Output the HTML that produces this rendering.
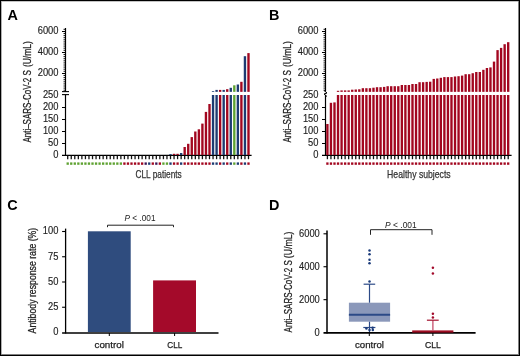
<!DOCTYPE html>
<html><head><meta charset="utf-8"><title>Figure</title>
<style>
html,body{margin:0;padding:0;background:#fff;}
body{width:520px;height:356px;overflow:hidden;}
svg{display:block;will-change:transform;}
text{font-family:"Liberation Sans",sans-serif;}
</style></head><body>
<svg width="520" height="356" viewBox="0 0 520 356">
<rect x="0" y="0" width="520" height="356" fill="#fff"/>
<line x1="65.50" y1="28.00" x2="65.50" y2="91.50" stroke="#000" stroke-width="1.2"/>
<line x1="65.50" y1="94.80" x2="65.50" y2="156.00" stroke="#000" stroke-width="1.2"/>
<line x1="62.00" y1="73.50" x2="65.50" y2="73.50" stroke="#000" stroke-width="1"/>
<line x1="62.00" y1="52.50" x2="65.50" y2="52.50" stroke="#000" stroke-width="1"/>
<line x1="62.00" y1="31.50" x2="65.50" y2="31.50" stroke="#000" stroke-width="1"/>
<line x1="63.50" y1="90.20" x2="65.50" y2="90.20" stroke="#000" stroke-width="0.9"/>
<line x1="63.50" y1="88.10" x2="65.50" y2="88.10" stroke="#000" stroke-width="0.9"/>
<line x1="63.50" y1="86.00" x2="65.50" y2="86.00" stroke="#000" stroke-width="0.9"/>
<line x1="63.50" y1="83.90" x2="65.50" y2="83.90" stroke="#000" stroke-width="0.9"/>
<line x1="63.50" y1="81.80" x2="65.50" y2="81.80" stroke="#000" stroke-width="0.9"/>
<line x1="63.50" y1="79.70" x2="65.50" y2="79.70" stroke="#000" stroke-width="0.9"/>
<line x1="63.50" y1="77.60" x2="65.50" y2="77.60" stroke="#000" stroke-width="0.9"/>
<line x1="63.50" y1="75.50" x2="65.50" y2="75.50" stroke="#000" stroke-width="0.9"/>
<line x1="63.50" y1="71.30" x2="65.50" y2="71.30" stroke="#000" stroke-width="0.9"/>
<line x1="63.50" y1="69.20" x2="65.50" y2="69.20" stroke="#000" stroke-width="0.9"/>
<line x1="63.50" y1="67.10" x2="65.50" y2="67.10" stroke="#000" stroke-width="0.9"/>
<line x1="63.50" y1="65.00" x2="65.50" y2="65.00" stroke="#000" stroke-width="0.9"/>
<line x1="63.50" y1="62.90" x2="65.50" y2="62.90" stroke="#000" stroke-width="0.9"/>
<line x1="63.50" y1="60.80" x2="65.50" y2="60.80" stroke="#000" stroke-width="0.9"/>
<line x1="63.50" y1="58.70" x2="65.50" y2="58.70" stroke="#000" stroke-width="0.9"/>
<line x1="63.50" y1="56.60" x2="65.50" y2="56.60" stroke="#000" stroke-width="0.9"/>
<line x1="63.50" y1="54.50" x2="65.50" y2="54.50" stroke="#000" stroke-width="0.9"/>
<line x1="63.50" y1="50.30" x2="65.50" y2="50.30" stroke="#000" stroke-width="0.9"/>
<line x1="63.50" y1="48.20" x2="65.50" y2="48.20" stroke="#000" stroke-width="0.9"/>
<line x1="63.50" y1="46.10" x2="65.50" y2="46.10" stroke="#000" stroke-width="0.9"/>
<line x1="63.50" y1="44.00" x2="65.50" y2="44.00" stroke="#000" stroke-width="0.9"/>
<line x1="63.50" y1="41.90" x2="65.50" y2="41.90" stroke="#000" stroke-width="0.9"/>
<line x1="63.50" y1="39.80" x2="65.50" y2="39.80" stroke="#000" stroke-width="0.9"/>
<line x1="63.50" y1="37.70" x2="65.50" y2="37.70" stroke="#000" stroke-width="0.9"/>
<line x1="63.50" y1="35.60" x2="65.50" y2="35.60" stroke="#000" stroke-width="0.9"/>
<line x1="63.50" y1="33.50" x2="65.50" y2="33.50" stroke="#000" stroke-width="0.9"/>
<line x1="63.50" y1="29.30" x2="65.50" y2="29.30" stroke="#000" stroke-width="0.9"/>
<line x1="62.00" y1="143.50" x2="65.50" y2="143.50" stroke="#000" stroke-width="1"/>
<line x1="62.00" y1="131.50" x2="65.50" y2="131.50" stroke="#000" stroke-width="1"/>
<line x1="62.00" y1="119.50" x2="65.50" y2="119.50" stroke="#000" stroke-width="1"/>
<line x1="62.00" y1="107.50" x2="65.50" y2="107.50" stroke="#000" stroke-width="1"/>
<line x1="62.00" y1="155.45" x2="251.60" y2="155.45" stroke="#000" stroke-width="1.3"/>
<line x1="62.00" y1="91.60" x2="69.00" y2="91.60" stroke="#000" stroke-width="1.1"/>
<line x1="62.00" y1="94.60" x2="69.00" y2="94.60" stroke="#000" stroke-width="1.1"/>
<text x="58.50" y="34.30" font-size="10.0" text-anchor="end" font-weight="normal" fill="#222" stroke="#222" stroke-width="0.14" textLength="20.8" lengthAdjust="spacingAndGlyphs">6000</text>
<text x="58.50" y="55.30" font-size="10.0" text-anchor="end" font-weight="normal" fill="#222" stroke="#222" stroke-width="0.14" textLength="20.8" lengthAdjust="spacingAndGlyphs">4000</text>
<text x="58.50" y="76.30" font-size="10.0" text-anchor="end" font-weight="normal" fill="#222" stroke="#222" stroke-width="0.14" textLength="20.8" lengthAdjust="spacingAndGlyphs">2000</text>
<text x="58.50" y="97.90" font-size="10.0" text-anchor="end" font-weight="normal" fill="#222" stroke="#222" stroke-width="0.14" textLength="15.600000000000001" lengthAdjust="spacingAndGlyphs">250</text>
<text x="58.50" y="110.00" font-size="10.0" text-anchor="end" font-weight="normal" fill="#222" stroke="#222" stroke-width="0.14" textLength="15.600000000000001" lengthAdjust="spacingAndGlyphs">200</text>
<text x="58.50" y="122.10" font-size="10.0" text-anchor="end" font-weight="normal" fill="#222" stroke="#222" stroke-width="0.14" textLength="15.600000000000001" lengthAdjust="spacingAndGlyphs">150</text>
<text x="58.50" y="134.20" font-size="10.0" text-anchor="end" font-weight="normal" fill="#222" stroke="#222" stroke-width="0.14" textLength="15.600000000000001" lengthAdjust="spacingAndGlyphs">100</text>
<text x="58.50" y="146.30" font-size="10.0" text-anchor="end" font-weight="normal" fill="#222" stroke="#222" stroke-width="0.14" textLength="10.4" lengthAdjust="spacingAndGlyphs">50</text>
<text x="58.50" y="158.40" font-size="10.0" text-anchor="end" font-weight="normal" fill="#222" stroke="#222" stroke-width="0.14" textLength="5.2" lengthAdjust="spacingAndGlyphs">0</text>
<line x1="67.70" y1="155.80" x2="67.70" y2="159.20" stroke="#111" stroke-width="1.3"/>
<rect x="66.55" y="162.40" width="2.30" height="2.40" fill="#5fa232"/>
<line x1="71.25" y1="155.80" x2="71.25" y2="159.20" stroke="#111" stroke-width="1.3"/>
<rect x="70.09" y="162.40" width="2.30" height="2.40" fill="#5fa232"/>
<line x1="74.79" y1="155.80" x2="74.79" y2="159.20" stroke="#111" stroke-width="1.3"/>
<rect x="73.64" y="162.40" width="2.30" height="2.40" fill="#5fa232"/>
<line x1="78.34" y1="155.80" x2="78.34" y2="159.20" stroke="#111" stroke-width="1.3"/>
<rect x="77.19" y="162.40" width="2.30" height="2.40" fill="#5fa232"/>
<line x1="81.88" y1="155.80" x2="81.88" y2="159.20" stroke="#111" stroke-width="1.3"/>
<rect x="80.73" y="162.40" width="2.30" height="2.40" fill="#5fa232"/>
<line x1="85.43" y1="155.80" x2="85.43" y2="159.20" stroke="#111" stroke-width="1.3"/>
<rect x="84.28" y="162.40" width="2.30" height="2.40" fill="#5fa232"/>
<line x1="88.97" y1="155.80" x2="88.97" y2="159.20" stroke="#111" stroke-width="1.3"/>
<rect x="87.82" y="162.40" width="2.30" height="2.40" fill="#5fa232"/>
<line x1="92.52" y1="155.80" x2="92.52" y2="159.20" stroke="#111" stroke-width="1.3"/>
<rect x="91.36" y="162.40" width="2.30" height="2.40" fill="#5fa232"/>
<line x1="96.06" y1="155.80" x2="96.06" y2="159.20" stroke="#111" stroke-width="1.3"/>
<rect x="94.91" y="162.40" width="2.30" height="2.40" fill="#5fa232"/>
<line x1="99.61" y1="155.80" x2="99.61" y2="159.20" stroke="#111" stroke-width="1.3"/>
<rect x="98.45" y="162.40" width="2.30" height="2.40" fill="#5fa232"/>
<line x1="103.15" y1="155.80" x2="103.15" y2="159.20" stroke="#111" stroke-width="1.3"/>
<rect x="102.00" y="162.40" width="2.30" height="2.40" fill="#5fa232"/>
<line x1="106.69" y1="155.80" x2="106.69" y2="159.20" stroke="#111" stroke-width="1.3"/>
<rect x="105.54" y="162.40" width="2.30" height="2.40" fill="#5fa232"/>
<line x1="110.24" y1="155.80" x2="110.24" y2="159.20" stroke="#111" stroke-width="1.3"/>
<rect x="109.09" y="162.40" width="2.30" height="2.40" fill="#5fa232"/>
<line x1="113.78" y1="155.80" x2="113.78" y2="159.20" stroke="#111" stroke-width="1.3"/>
<rect x="112.63" y="162.40" width="2.30" height="2.40" fill="#5fa232"/>
<line x1="117.33" y1="155.80" x2="117.33" y2="159.20" stroke="#111" stroke-width="1.3"/>
<rect x="116.18" y="162.40" width="2.30" height="2.40" fill="#5fa232"/>
<line x1="120.88" y1="155.80" x2="120.88" y2="159.20" stroke="#111" stroke-width="1.3"/>
<rect x="119.72" y="162.40" width="2.30" height="2.40" fill="#5fa232"/>
<line x1="124.42" y1="155.80" x2="124.42" y2="159.20" stroke="#111" stroke-width="1.3"/>
<rect x="123.27" y="162.40" width="2.30" height="2.40" fill="#a2061f"/>
<line x1="127.97" y1="155.80" x2="127.97" y2="159.20" stroke="#111" stroke-width="1.3"/>
<rect x="126.81" y="162.40" width="2.30" height="2.40" fill="#a2061f"/>
<line x1="131.51" y1="155.80" x2="131.51" y2="159.20" stroke="#111" stroke-width="1.3"/>
<rect x="130.36" y="162.40" width="2.30" height="2.40" fill="#a2061f"/>
<line x1="135.06" y1="155.80" x2="135.06" y2="159.20" stroke="#111" stroke-width="1.3"/>
<rect x="133.91" y="162.40" width="2.30" height="2.40" fill="#a2061f"/>
<line x1="138.60" y1="155.80" x2="138.60" y2="159.20" stroke="#111" stroke-width="1.3"/>
<rect x="137.45" y="162.40" width="2.30" height="2.40" fill="#a2061f"/>
<line x1="142.14" y1="155.80" x2="142.14" y2="159.20" stroke="#111" stroke-width="1.3"/>
<rect x="140.99" y="162.40" width="2.30" height="2.40" fill="#a2061f"/>
<line x1="145.69" y1="155.80" x2="145.69" y2="159.20" stroke="#111" stroke-width="1.3"/>
<rect x="144.54" y="162.40" width="2.30" height="2.40" fill="#3b1456"/>
<line x1="149.24" y1="155.80" x2="149.24" y2="159.20" stroke="#111" stroke-width="1.3"/>
<rect x="148.09" y="162.40" width="2.30" height="2.40" fill="#1d3b72"/>
<line x1="152.78" y1="155.80" x2="152.78" y2="159.20" stroke="#111" stroke-width="1.3"/>
<rect x="151.63" y="162.40" width="2.30" height="2.40" fill="#a2061f"/>
<line x1="156.32" y1="155.80" x2="156.32" y2="159.20" stroke="#111" stroke-width="1.3"/>
<rect x="155.17" y="162.40" width="2.30" height="2.40" fill="#3b1456"/>
<line x1="159.87" y1="155.80" x2="159.87" y2="159.20" stroke="#111" stroke-width="1.3"/>
<rect x="158.72" y="162.40" width="2.30" height="2.40" fill="#a2061f"/>
<line x1="163.42" y1="155.80" x2="163.42" y2="159.20" stroke="#111" stroke-width="1.3"/>
<rect x="162.27" y="162.40" width="2.30" height="2.40" fill="#5fa232"/>
<line x1="166.96" y1="155.80" x2="166.96" y2="159.20" stroke="#111" stroke-width="1.3"/>
<rect x="165.81" y="162.40" width="2.30" height="2.40" fill="#5fa232"/>
<line x1="170.50" y1="155.80" x2="170.50" y2="159.20" stroke="#111" stroke-width="1.3"/>
<rect x="169.35" y="162.40" width="2.30" height="2.40" fill="#1d3b72"/>
<rect x="169.32" y="154.10" width="2.36" height="0.90" fill="#1d3b72"/>
<line x1="174.05" y1="155.80" x2="174.05" y2="159.20" stroke="#111" stroke-width="1.3"/>
<rect x="172.90" y="162.40" width="2.30" height="2.40" fill="#a2061f"/>
<rect x="172.87" y="153.80" width="2.36" height="1.20" fill="#a2061f"/>
<line x1="177.59" y1="155.80" x2="177.59" y2="159.20" stroke="#111" stroke-width="1.3"/>
<rect x="176.44" y="162.40" width="2.30" height="2.40" fill="#a2061f"/>
<rect x="176.41" y="153.80" width="2.36" height="1.20" fill="#a2061f"/>
<line x1="181.14" y1="155.80" x2="181.14" y2="159.20" stroke="#111" stroke-width="1.3"/>
<rect x="179.99" y="162.40" width="2.30" height="2.40" fill="#1d3b72"/>
<rect x="179.96" y="153.00" width="2.36" height="2.00" fill="#1d3b72"/>
<line x1="184.69" y1="155.80" x2="184.69" y2="159.20" stroke="#111" stroke-width="1.3"/>
<rect x="183.53" y="162.40" width="2.30" height="2.40" fill="#a2061f"/>
<rect x="183.50" y="147.00" width="2.36" height="8.00" fill="#a2061f"/>
<line x1="188.23" y1="155.80" x2="188.23" y2="159.20" stroke="#111" stroke-width="1.3"/>
<rect x="187.08" y="162.40" width="2.30" height="2.40" fill="#a2061f"/>
<rect x="187.05" y="143.80" width="2.36" height="11.20" fill="#a2061f"/>
<line x1="191.78" y1="155.80" x2="191.78" y2="159.20" stroke="#111" stroke-width="1.3"/>
<rect x="190.62" y="162.40" width="2.30" height="2.40" fill="#a2061f"/>
<rect x="190.59" y="137.10" width="2.36" height="17.90" fill="#a2061f"/>
<line x1="195.32" y1="155.80" x2="195.32" y2="159.20" stroke="#111" stroke-width="1.3"/>
<rect x="194.17" y="162.40" width="2.30" height="2.40" fill="#a2061f"/>
<rect x="194.14" y="131.50" width="2.36" height="23.50" fill="#a2061f"/>
<line x1="198.87" y1="155.80" x2="198.87" y2="159.20" stroke="#111" stroke-width="1.3"/>
<rect x="197.72" y="162.40" width="2.30" height="2.40" fill="#a2061f"/>
<rect x="197.69" y="129.30" width="2.36" height="25.70" fill="#a2061f"/>
<line x1="202.41" y1="155.80" x2="202.41" y2="159.20" stroke="#111" stroke-width="1.3"/>
<rect x="201.26" y="162.40" width="2.30" height="2.40" fill="#a2061f"/>
<rect x="201.23" y="123.60" width="2.36" height="31.40" fill="#a2061f"/>
<line x1="205.95" y1="155.80" x2="205.95" y2="159.20" stroke="#111" stroke-width="1.3"/>
<rect x="204.80" y="162.40" width="2.30" height="2.40" fill="#a2061f"/>
<rect x="204.77" y="111.90" width="2.36" height="43.10" fill="#a2061f"/>
<line x1="209.50" y1="155.80" x2="209.50" y2="159.20" stroke="#111" stroke-width="1.3"/>
<rect x="208.35" y="162.40" width="2.30" height="2.40" fill="#a2061f"/>
<rect x="208.32" y="104.00" width="2.36" height="51.00" fill="#a2061f"/>
<line x1="213.05" y1="155.80" x2="213.05" y2="159.20" stroke="#111" stroke-width="1.3"/>
<rect x="211.90" y="162.40" width="2.30" height="2.40" fill="#1d3b72"/>
<rect x="211.87" y="95.00" width="2.36" height="60.00" fill="#1d3b72"/>
<rect x="211.87" y="91.10" width="2.36" height="0.75" fill="#1d3b72"/>
<line x1="216.59" y1="155.80" x2="216.59" y2="159.20" stroke="#111" stroke-width="1.3"/>
<rect x="215.44" y="162.40" width="2.30" height="2.40" fill="#1d3b72"/>
<rect x="215.41" y="95.00" width="2.36" height="60.00" fill="#1d3b72"/>
<rect x="215.41" y="89.90" width="2.36" height="1.95" fill="#1d3b72"/>
<line x1="220.13" y1="155.80" x2="220.13" y2="159.20" stroke="#111" stroke-width="1.3"/>
<rect x="218.98" y="162.40" width="2.30" height="2.40" fill="#a2061f"/>
<rect x="218.95" y="95.00" width="2.36" height="60.00" fill="#a2061f"/>
<rect x="218.95" y="89.90" width="2.36" height="1.95" fill="#a2061f"/>
<line x1="223.68" y1="155.80" x2="223.68" y2="159.20" stroke="#111" stroke-width="1.3"/>
<rect x="222.53" y="162.40" width="2.30" height="2.40" fill="#1d3b72"/>
<rect x="222.50" y="95.00" width="2.36" height="60.00" fill="#1d3b72"/>
<rect x="222.50" y="89.90" width="2.36" height="1.95" fill="#1d3b72"/>
<line x1="227.23" y1="155.80" x2="227.23" y2="159.20" stroke="#111" stroke-width="1.3"/>
<rect x="226.08" y="162.40" width="2.30" height="2.40" fill="#a2061f"/>
<rect x="226.05" y="95.00" width="2.36" height="60.00" fill="#a2061f"/>
<rect x="226.05" y="89.20" width="2.36" height="2.65" fill="#a2061f"/>
<line x1="230.77" y1="155.80" x2="230.77" y2="159.20" stroke="#111" stroke-width="1.3"/>
<rect x="229.62" y="162.40" width="2.30" height="2.40" fill="#1d3b72"/>
<rect x="229.59" y="95.00" width="2.36" height="60.00" fill="#1d3b72"/>
<rect x="229.59" y="87.80" width="2.36" height="4.05" fill="#1d3b72"/>
<line x1="234.31" y1="155.80" x2="234.31" y2="159.20" stroke="#111" stroke-width="1.3"/>
<rect x="233.16" y="162.40" width="2.30" height="2.40" fill="#5fa232"/>
<rect x="233.13" y="95.00" width="2.36" height="60.00" fill="#5fa232"/>
<rect x="233.13" y="85.30" width="2.36" height="6.55" fill="#5fa232"/>
<line x1="237.86" y1="155.80" x2="237.86" y2="159.20" stroke="#111" stroke-width="1.3"/>
<rect x="236.71" y="162.40" width="2.30" height="2.40" fill="#1d3b72"/>
<rect x="236.68" y="95.00" width="2.36" height="60.00" fill="#1d3b72"/>
<rect x="236.68" y="84.50" width="2.36" height="7.35" fill="#1d3b72"/>
<line x1="241.40" y1="155.80" x2="241.40" y2="159.20" stroke="#111" stroke-width="1.3"/>
<rect x="240.25" y="162.40" width="2.30" height="2.40" fill="#a2061f"/>
<rect x="240.22" y="95.00" width="2.36" height="60.00" fill="#a2061f"/>
<rect x="240.22" y="81.80" width="2.36" height="10.05" fill="#a2061f"/>
<line x1="244.95" y1="155.80" x2="244.95" y2="159.20" stroke="#111" stroke-width="1.3"/>
<rect x="243.80" y="162.40" width="2.30" height="2.40" fill="#1d3b72"/>
<rect x="243.77" y="95.00" width="2.36" height="60.00" fill="#1d3b72"/>
<rect x="243.77" y="56.20" width="2.36" height="35.65" fill="#1d3b72"/>
<line x1="248.50" y1="155.80" x2="248.50" y2="159.20" stroke="#111" stroke-width="1.3"/>
<rect x="247.34" y="162.40" width="2.30" height="2.40" fill="#a2061f"/>
<rect x="247.31" y="95.00" width="2.36" height="60.00" fill="#a2061f"/>
<rect x="247.31" y="53.10" width="2.36" height="38.75" fill="#a2061f"/>
<line x1="325.50" y1="28.00" x2="325.50" y2="91.50" stroke="#000" stroke-width="1.2"/>
<line x1="325.50" y1="94.80" x2="325.50" y2="156.00" stroke="#000" stroke-width="1.2"/>
<line x1="322.00" y1="73.50" x2="325.50" y2="73.50" stroke="#000" stroke-width="1"/>
<line x1="322.00" y1="52.50" x2="325.50" y2="52.50" stroke="#000" stroke-width="1"/>
<line x1="322.00" y1="31.50" x2="325.50" y2="31.50" stroke="#000" stroke-width="1"/>
<line x1="323.50" y1="90.20" x2="325.50" y2="90.20" stroke="#000" stroke-width="0.9"/>
<line x1="323.50" y1="88.10" x2="325.50" y2="88.10" stroke="#000" stroke-width="0.9"/>
<line x1="323.50" y1="86.00" x2="325.50" y2="86.00" stroke="#000" stroke-width="0.9"/>
<line x1="323.50" y1="83.90" x2="325.50" y2="83.90" stroke="#000" stroke-width="0.9"/>
<line x1="323.50" y1="81.80" x2="325.50" y2="81.80" stroke="#000" stroke-width="0.9"/>
<line x1="323.50" y1="79.70" x2="325.50" y2="79.70" stroke="#000" stroke-width="0.9"/>
<line x1="323.50" y1="77.60" x2="325.50" y2="77.60" stroke="#000" stroke-width="0.9"/>
<line x1="323.50" y1="75.50" x2="325.50" y2="75.50" stroke="#000" stroke-width="0.9"/>
<line x1="323.50" y1="71.30" x2="325.50" y2="71.30" stroke="#000" stroke-width="0.9"/>
<line x1="323.50" y1="69.20" x2="325.50" y2="69.20" stroke="#000" stroke-width="0.9"/>
<line x1="323.50" y1="67.10" x2="325.50" y2="67.10" stroke="#000" stroke-width="0.9"/>
<line x1="323.50" y1="65.00" x2="325.50" y2="65.00" stroke="#000" stroke-width="0.9"/>
<line x1="323.50" y1="62.90" x2="325.50" y2="62.90" stroke="#000" stroke-width="0.9"/>
<line x1="323.50" y1="60.80" x2="325.50" y2="60.80" stroke="#000" stroke-width="0.9"/>
<line x1="323.50" y1="58.70" x2="325.50" y2="58.70" stroke="#000" stroke-width="0.9"/>
<line x1="323.50" y1="56.60" x2="325.50" y2="56.60" stroke="#000" stroke-width="0.9"/>
<line x1="323.50" y1="54.50" x2="325.50" y2="54.50" stroke="#000" stroke-width="0.9"/>
<line x1="323.50" y1="50.30" x2="325.50" y2="50.30" stroke="#000" stroke-width="0.9"/>
<line x1="323.50" y1="48.20" x2="325.50" y2="48.20" stroke="#000" stroke-width="0.9"/>
<line x1="323.50" y1="46.10" x2="325.50" y2="46.10" stroke="#000" stroke-width="0.9"/>
<line x1="323.50" y1="44.00" x2="325.50" y2="44.00" stroke="#000" stroke-width="0.9"/>
<line x1="323.50" y1="41.90" x2="325.50" y2="41.90" stroke="#000" stroke-width="0.9"/>
<line x1="323.50" y1="39.80" x2="325.50" y2="39.80" stroke="#000" stroke-width="0.9"/>
<line x1="323.50" y1="37.70" x2="325.50" y2="37.70" stroke="#000" stroke-width="0.9"/>
<line x1="323.50" y1="35.60" x2="325.50" y2="35.60" stroke="#000" stroke-width="0.9"/>
<line x1="323.50" y1="33.50" x2="325.50" y2="33.50" stroke="#000" stroke-width="0.9"/>
<line x1="323.50" y1="29.30" x2="325.50" y2="29.30" stroke="#000" stroke-width="0.9"/>
<line x1="322.00" y1="143.50" x2="325.50" y2="143.50" stroke="#000" stroke-width="1"/>
<line x1="322.00" y1="131.50" x2="325.50" y2="131.50" stroke="#000" stroke-width="1"/>
<line x1="322.00" y1="119.50" x2="325.50" y2="119.50" stroke="#000" stroke-width="1"/>
<line x1="322.00" y1="107.50" x2="325.50" y2="107.50" stroke="#000" stroke-width="1"/>
<line x1="322.00" y1="155.45" x2="511.60" y2="155.45" stroke="#000" stroke-width="1.3"/>
<path d="M324.0,90.5 L327.0,93 L324.0,94 L327.0,96.5" fill="none" stroke="#000" stroke-width="1"/>
<text x="318.50" y="34.30" font-size="10.0" text-anchor="end" font-weight="normal" fill="#222" stroke="#222" stroke-width="0.14" textLength="20.8" lengthAdjust="spacingAndGlyphs">6000</text>
<text x="318.50" y="55.30" font-size="10.0" text-anchor="end" font-weight="normal" fill="#222" stroke="#222" stroke-width="0.14" textLength="20.8" lengthAdjust="spacingAndGlyphs">4000</text>
<text x="318.50" y="76.30" font-size="10.0" text-anchor="end" font-weight="normal" fill="#222" stroke="#222" stroke-width="0.14" textLength="20.8" lengthAdjust="spacingAndGlyphs">2000</text>
<text x="318.50" y="97.90" font-size="10.0" text-anchor="end" font-weight="normal" fill="#222" stroke="#222" stroke-width="0.14" textLength="15.600000000000001" lengthAdjust="spacingAndGlyphs">250</text>
<text x="318.50" y="110.00" font-size="10.0" text-anchor="end" font-weight="normal" fill="#222" stroke="#222" stroke-width="0.14" textLength="15.600000000000001" lengthAdjust="spacingAndGlyphs">200</text>
<text x="318.50" y="122.10" font-size="10.0" text-anchor="end" font-weight="normal" fill="#222" stroke="#222" stroke-width="0.14" textLength="15.600000000000001" lengthAdjust="spacingAndGlyphs">150</text>
<text x="318.50" y="134.20" font-size="10.0" text-anchor="end" font-weight="normal" fill="#222" stroke="#222" stroke-width="0.14" textLength="15.600000000000001" lengthAdjust="spacingAndGlyphs">100</text>
<text x="318.50" y="146.30" font-size="10.0" text-anchor="end" font-weight="normal" fill="#222" stroke="#222" stroke-width="0.14" textLength="10.4" lengthAdjust="spacingAndGlyphs">50</text>
<text x="318.50" y="158.40" font-size="10.0" text-anchor="end" font-weight="normal" fill="#222" stroke="#222" stroke-width="0.14" textLength="5.2" lengthAdjust="spacingAndGlyphs">0</text>
<line x1="327.40" y1="155.80" x2="327.40" y2="159.20" stroke="#111" stroke-width="1.3"/>
<rect x="326.25" y="162.40" width="2.30" height="2.40" fill="#a2061f"/>
<rect x="326.22" y="124.00" width="2.36" height="31.00" fill="#a2061f"/>
<line x1="330.94" y1="155.80" x2="330.94" y2="159.20" stroke="#111" stroke-width="1.3"/>
<rect x="329.80" y="162.40" width="2.30" height="2.40" fill="#a2061f"/>
<rect x="329.76" y="102.80" width="2.36" height="52.20" fill="#a2061f"/>
<line x1="334.49" y1="155.80" x2="334.49" y2="159.20" stroke="#111" stroke-width="1.3"/>
<rect x="333.34" y="162.40" width="2.30" height="2.40" fill="#a2061f"/>
<rect x="333.31" y="102.40" width="2.36" height="52.60" fill="#a2061f"/>
<line x1="338.03" y1="155.80" x2="338.03" y2="159.20" stroke="#111" stroke-width="1.3"/>
<rect x="336.88" y="162.40" width="2.30" height="2.40" fill="#a2061f"/>
<rect x="336.85" y="95.00" width="2.36" height="60.00" fill="#a2061f"/>
<rect x="336.85" y="90.80" width="2.36" height="1.05" fill="#a2061f"/>
<line x1="341.58" y1="155.80" x2="341.58" y2="159.20" stroke="#111" stroke-width="1.3"/>
<rect x="340.43" y="162.40" width="2.30" height="2.40" fill="#a2061f"/>
<rect x="340.40" y="95.00" width="2.36" height="60.00" fill="#a2061f"/>
<rect x="340.40" y="90.40" width="2.36" height="1.45" fill="#a2061f"/>
<line x1="345.12" y1="155.80" x2="345.12" y2="159.20" stroke="#111" stroke-width="1.3"/>
<rect x="343.98" y="162.40" width="2.30" height="2.40" fill="#a2061f"/>
<rect x="343.94" y="95.00" width="2.36" height="60.00" fill="#a2061f"/>
<rect x="343.94" y="90.40" width="2.36" height="1.45" fill="#a2061f"/>
<line x1="348.67" y1="155.80" x2="348.67" y2="159.20" stroke="#111" stroke-width="1.3"/>
<rect x="347.52" y="162.40" width="2.30" height="2.40" fill="#a2061f"/>
<rect x="347.49" y="95.00" width="2.36" height="60.00" fill="#a2061f"/>
<rect x="347.49" y="90.40" width="2.36" height="1.45" fill="#a2061f"/>
<line x1="352.21" y1="155.80" x2="352.21" y2="159.20" stroke="#111" stroke-width="1.3"/>
<rect x="351.06" y="162.40" width="2.30" height="2.40" fill="#a2061f"/>
<rect x="351.03" y="95.00" width="2.36" height="60.00" fill="#a2061f"/>
<rect x="351.03" y="89.70" width="2.36" height="2.15" fill="#a2061f"/>
<line x1="355.76" y1="155.80" x2="355.76" y2="159.20" stroke="#111" stroke-width="1.3"/>
<rect x="354.61" y="162.40" width="2.30" height="2.40" fill="#a2061f"/>
<rect x="354.58" y="95.00" width="2.36" height="60.00" fill="#a2061f"/>
<rect x="354.58" y="89.50" width="2.36" height="2.35" fill="#a2061f"/>
<line x1="359.30" y1="155.80" x2="359.30" y2="159.20" stroke="#111" stroke-width="1.3"/>
<rect x="358.15" y="162.40" width="2.30" height="2.40" fill="#a2061f"/>
<rect x="358.12" y="95.00" width="2.36" height="60.00" fill="#a2061f"/>
<rect x="358.12" y="89.30" width="2.36" height="2.55" fill="#a2061f"/>
<line x1="362.85" y1="155.80" x2="362.85" y2="159.20" stroke="#111" stroke-width="1.3"/>
<rect x="361.70" y="162.40" width="2.30" height="2.40" fill="#a2061f"/>
<rect x="361.67" y="95.00" width="2.36" height="60.00" fill="#a2061f"/>
<rect x="361.67" y="88.20" width="2.36" height="3.65" fill="#a2061f"/>
<line x1="366.39" y1="155.80" x2="366.39" y2="159.20" stroke="#111" stroke-width="1.3"/>
<rect x="365.25" y="162.40" width="2.30" height="2.40" fill="#a2061f"/>
<rect x="365.21" y="95.00" width="2.36" height="60.00" fill="#a2061f"/>
<rect x="365.21" y="88.20" width="2.36" height="3.65" fill="#a2061f"/>
<line x1="369.94" y1="155.80" x2="369.94" y2="159.20" stroke="#111" stroke-width="1.3"/>
<rect x="368.79" y="162.40" width="2.30" height="2.40" fill="#a2061f"/>
<rect x="368.76" y="95.00" width="2.36" height="60.00" fill="#a2061f"/>
<rect x="368.76" y="88.20" width="2.36" height="3.65" fill="#a2061f"/>
<line x1="373.48" y1="155.80" x2="373.48" y2="159.20" stroke="#111" stroke-width="1.3"/>
<rect x="372.33" y="162.40" width="2.30" height="2.40" fill="#a2061f"/>
<rect x="372.30" y="95.00" width="2.36" height="60.00" fill="#a2061f"/>
<rect x="372.30" y="87.70" width="2.36" height="4.15" fill="#a2061f"/>
<line x1="377.03" y1="155.80" x2="377.03" y2="159.20" stroke="#111" stroke-width="1.3"/>
<rect x="375.88" y="162.40" width="2.30" height="2.40" fill="#a2061f"/>
<rect x="375.85" y="95.00" width="2.36" height="60.00" fill="#a2061f"/>
<rect x="375.85" y="87.20" width="2.36" height="4.65" fill="#a2061f"/>
<line x1="380.57" y1="155.80" x2="380.57" y2="159.20" stroke="#111" stroke-width="1.3"/>
<rect x="379.43" y="162.40" width="2.30" height="2.40" fill="#a2061f"/>
<rect x="379.39" y="95.00" width="2.36" height="60.00" fill="#a2061f"/>
<rect x="379.39" y="87.20" width="2.36" height="4.65" fill="#a2061f"/>
<line x1="384.12" y1="155.80" x2="384.12" y2="159.20" stroke="#111" stroke-width="1.3"/>
<rect x="382.97" y="162.40" width="2.30" height="2.40" fill="#a2061f"/>
<rect x="382.94" y="95.00" width="2.36" height="60.00" fill="#a2061f"/>
<rect x="382.94" y="86.90" width="2.36" height="4.95" fill="#a2061f"/>
<line x1="387.66" y1="155.80" x2="387.66" y2="159.20" stroke="#111" stroke-width="1.3"/>
<rect x="386.51" y="162.40" width="2.30" height="2.40" fill="#a2061f"/>
<rect x="386.48" y="95.00" width="2.36" height="60.00" fill="#a2061f"/>
<rect x="386.48" y="86.20" width="2.36" height="5.65" fill="#a2061f"/>
<line x1="391.21" y1="155.80" x2="391.21" y2="159.20" stroke="#111" stroke-width="1.3"/>
<rect x="390.06" y="162.40" width="2.30" height="2.40" fill="#a2061f"/>
<rect x="390.03" y="95.00" width="2.36" height="60.00" fill="#a2061f"/>
<rect x="390.03" y="86.20" width="2.36" height="5.65" fill="#a2061f"/>
<line x1="394.75" y1="155.80" x2="394.75" y2="159.20" stroke="#111" stroke-width="1.3"/>
<rect x="393.61" y="162.40" width="2.30" height="2.40" fill="#a2061f"/>
<rect x="393.57" y="95.00" width="2.36" height="60.00" fill="#a2061f"/>
<rect x="393.57" y="86.20" width="2.36" height="5.65" fill="#a2061f"/>
<line x1="398.30" y1="155.80" x2="398.30" y2="159.20" stroke="#111" stroke-width="1.3"/>
<rect x="397.15" y="162.40" width="2.30" height="2.40" fill="#a2061f"/>
<rect x="397.12" y="95.00" width="2.36" height="60.00" fill="#a2061f"/>
<rect x="397.12" y="86.20" width="2.36" height="5.65" fill="#a2061f"/>
<line x1="401.84" y1="155.80" x2="401.84" y2="159.20" stroke="#111" stroke-width="1.3"/>
<rect x="400.69" y="162.40" width="2.30" height="2.40" fill="#a2061f"/>
<rect x="400.66" y="95.00" width="2.36" height="60.00" fill="#a2061f"/>
<rect x="400.66" y="85.00" width="2.36" height="6.85" fill="#a2061f"/>
<line x1="405.39" y1="155.80" x2="405.39" y2="159.20" stroke="#111" stroke-width="1.3"/>
<rect x="404.24" y="162.40" width="2.30" height="2.40" fill="#a2061f"/>
<rect x="404.21" y="95.00" width="2.36" height="60.00" fill="#a2061f"/>
<rect x="404.21" y="85.00" width="2.36" height="6.85" fill="#a2061f"/>
<line x1="408.93" y1="155.80" x2="408.93" y2="159.20" stroke="#111" stroke-width="1.3"/>
<rect x="407.78" y="162.40" width="2.30" height="2.40" fill="#a2061f"/>
<rect x="407.75" y="95.00" width="2.36" height="60.00" fill="#a2061f"/>
<rect x="407.75" y="85.00" width="2.36" height="6.85" fill="#a2061f"/>
<line x1="412.48" y1="155.80" x2="412.48" y2="159.20" stroke="#111" stroke-width="1.3"/>
<rect x="411.33" y="162.40" width="2.30" height="2.40" fill="#a2061f"/>
<rect x="411.30" y="95.00" width="2.36" height="60.00" fill="#a2061f"/>
<rect x="411.30" y="84.00" width="2.36" height="7.85" fill="#a2061f"/>
<line x1="416.02" y1="155.80" x2="416.02" y2="159.20" stroke="#111" stroke-width="1.3"/>
<rect x="414.88" y="162.40" width="2.30" height="2.40" fill="#a2061f"/>
<rect x="414.84" y="95.00" width="2.36" height="60.00" fill="#a2061f"/>
<rect x="414.84" y="84.00" width="2.36" height="7.85" fill="#a2061f"/>
<line x1="419.57" y1="155.80" x2="419.57" y2="159.20" stroke="#111" stroke-width="1.3"/>
<rect x="418.42" y="162.40" width="2.30" height="2.40" fill="#a2061f"/>
<rect x="418.39" y="95.00" width="2.36" height="60.00" fill="#a2061f"/>
<rect x="418.39" y="82.20" width="2.36" height="9.65" fill="#a2061f"/>
<line x1="423.12" y1="155.80" x2="423.12" y2="159.20" stroke="#111" stroke-width="1.3"/>
<rect x="421.97" y="162.40" width="2.30" height="2.40" fill="#a2061f"/>
<rect x="421.94" y="95.00" width="2.36" height="60.00" fill="#a2061f"/>
<rect x="421.94" y="82.20" width="2.36" height="9.65" fill="#a2061f"/>
<line x1="426.66" y1="155.80" x2="426.66" y2="159.20" stroke="#111" stroke-width="1.3"/>
<rect x="425.51" y="162.40" width="2.30" height="2.40" fill="#a2061f"/>
<rect x="425.48" y="95.00" width="2.36" height="60.00" fill="#a2061f"/>
<rect x="425.48" y="81.90" width="2.36" height="9.95" fill="#a2061f"/>
<line x1="430.20" y1="155.80" x2="430.20" y2="159.20" stroke="#111" stroke-width="1.3"/>
<rect x="429.06" y="162.40" width="2.30" height="2.40" fill="#a2061f"/>
<rect x="429.02" y="95.00" width="2.36" height="60.00" fill="#a2061f"/>
<rect x="429.02" y="81.70" width="2.36" height="10.15" fill="#a2061f"/>
<line x1="433.75" y1="155.80" x2="433.75" y2="159.20" stroke="#111" stroke-width="1.3"/>
<rect x="432.60" y="162.40" width="2.30" height="2.40" fill="#a2061f"/>
<rect x="432.57" y="95.00" width="2.36" height="60.00" fill="#a2061f"/>
<rect x="432.57" y="78.90" width="2.36" height="12.95" fill="#a2061f"/>
<line x1="437.29" y1="155.80" x2="437.29" y2="159.20" stroke="#111" stroke-width="1.3"/>
<rect x="436.14" y="162.40" width="2.30" height="2.40" fill="#a2061f"/>
<rect x="436.11" y="95.00" width="2.36" height="60.00" fill="#a2061f"/>
<rect x="436.11" y="78.50" width="2.36" height="13.35" fill="#a2061f"/>
<line x1="440.84" y1="155.80" x2="440.84" y2="159.20" stroke="#111" stroke-width="1.3"/>
<rect x="439.69" y="162.40" width="2.30" height="2.40" fill="#a2061f"/>
<rect x="439.66" y="95.00" width="2.36" height="60.00" fill="#a2061f"/>
<rect x="439.66" y="77.80" width="2.36" height="14.05" fill="#a2061f"/>
<line x1="444.38" y1="155.80" x2="444.38" y2="159.20" stroke="#111" stroke-width="1.3"/>
<rect x="443.24" y="162.40" width="2.30" height="2.40" fill="#a2061f"/>
<rect x="443.20" y="95.00" width="2.36" height="60.00" fill="#a2061f"/>
<rect x="443.20" y="77.10" width="2.36" height="14.75" fill="#a2061f"/>
<line x1="447.93" y1="155.80" x2="447.93" y2="159.20" stroke="#111" stroke-width="1.3"/>
<rect x="446.78" y="162.40" width="2.30" height="2.40" fill="#a2061f"/>
<rect x="446.75" y="95.00" width="2.36" height="60.00" fill="#a2061f"/>
<rect x="446.75" y="77.10" width="2.36" height="14.75" fill="#a2061f"/>
<line x1="451.47" y1="155.80" x2="451.47" y2="159.20" stroke="#111" stroke-width="1.3"/>
<rect x="450.32" y="162.40" width="2.30" height="2.40" fill="#a2061f"/>
<rect x="450.29" y="95.00" width="2.36" height="60.00" fill="#a2061f"/>
<rect x="450.29" y="77.10" width="2.36" height="14.75" fill="#a2061f"/>
<line x1="455.02" y1="155.80" x2="455.02" y2="159.20" stroke="#111" stroke-width="1.3"/>
<rect x="453.87" y="162.40" width="2.30" height="2.40" fill="#a2061f"/>
<rect x="453.84" y="95.00" width="2.36" height="60.00" fill="#a2061f"/>
<rect x="453.84" y="76.50" width="2.36" height="15.35" fill="#a2061f"/>
<line x1="458.56" y1="155.80" x2="458.56" y2="159.20" stroke="#111" stroke-width="1.3"/>
<rect x="457.41" y="162.40" width="2.30" height="2.40" fill="#a2061f"/>
<rect x="457.38" y="95.00" width="2.36" height="60.00" fill="#a2061f"/>
<rect x="457.38" y="76.20" width="2.36" height="15.65" fill="#a2061f"/>
<line x1="462.11" y1="155.80" x2="462.11" y2="159.20" stroke="#111" stroke-width="1.3"/>
<rect x="460.96" y="162.40" width="2.30" height="2.40" fill="#a2061f"/>
<rect x="460.93" y="95.00" width="2.36" height="60.00" fill="#a2061f"/>
<rect x="460.93" y="75.60" width="2.36" height="16.25" fill="#a2061f"/>
<line x1="465.65" y1="155.80" x2="465.65" y2="159.20" stroke="#111" stroke-width="1.3"/>
<rect x="464.50" y="162.40" width="2.30" height="2.40" fill="#a2061f"/>
<rect x="464.47" y="95.00" width="2.36" height="60.00" fill="#a2061f"/>
<rect x="464.47" y="74.20" width="2.36" height="17.65" fill="#a2061f"/>
<line x1="469.20" y1="155.80" x2="469.20" y2="159.20" stroke="#111" stroke-width="1.3"/>
<rect x="468.05" y="162.40" width="2.30" height="2.40" fill="#a2061f"/>
<rect x="468.02" y="95.00" width="2.36" height="60.00" fill="#a2061f"/>
<rect x="468.02" y="74.20" width="2.36" height="17.65" fill="#a2061f"/>
<line x1="472.75" y1="155.80" x2="472.75" y2="159.20" stroke="#111" stroke-width="1.3"/>
<rect x="471.60" y="162.40" width="2.30" height="2.40" fill="#a2061f"/>
<rect x="471.56" y="95.00" width="2.36" height="60.00" fill="#a2061f"/>
<rect x="471.56" y="73.20" width="2.36" height="18.65" fill="#a2061f"/>
<line x1="476.29" y1="155.80" x2="476.29" y2="159.20" stroke="#111" stroke-width="1.3"/>
<rect x="475.14" y="162.40" width="2.30" height="2.40" fill="#a2061f"/>
<rect x="475.11" y="95.00" width="2.36" height="60.00" fill="#a2061f"/>
<rect x="475.11" y="72.00" width="2.36" height="19.85" fill="#a2061f"/>
<line x1="479.83" y1="155.80" x2="479.83" y2="159.20" stroke="#111" stroke-width="1.3"/>
<rect x="478.69" y="162.40" width="2.30" height="2.40" fill="#a2061f"/>
<rect x="478.65" y="95.00" width="2.36" height="60.00" fill="#a2061f"/>
<rect x="478.65" y="72.00" width="2.36" height="19.85" fill="#a2061f"/>
<line x1="483.38" y1="155.80" x2="483.38" y2="159.20" stroke="#111" stroke-width="1.3"/>
<rect x="482.23" y="162.40" width="2.30" height="2.40" fill="#a2061f"/>
<rect x="482.20" y="95.00" width="2.36" height="60.00" fill="#a2061f"/>
<rect x="482.20" y="69.80" width="2.36" height="22.05" fill="#a2061f"/>
<line x1="486.92" y1="155.80" x2="486.92" y2="159.20" stroke="#111" stroke-width="1.3"/>
<rect x="485.77" y="162.40" width="2.30" height="2.40" fill="#a2061f"/>
<rect x="485.74" y="95.00" width="2.36" height="60.00" fill="#a2061f"/>
<rect x="485.74" y="68.00" width="2.36" height="23.85" fill="#a2061f"/>
<line x1="490.47" y1="155.80" x2="490.47" y2="159.20" stroke="#111" stroke-width="1.3"/>
<rect x="489.32" y="162.40" width="2.30" height="2.40" fill="#a2061f"/>
<rect x="489.29" y="95.00" width="2.36" height="60.00" fill="#a2061f"/>
<rect x="489.29" y="67.40" width="2.36" height="24.45" fill="#a2061f"/>
<line x1="494.01" y1="155.80" x2="494.01" y2="159.20" stroke="#111" stroke-width="1.3"/>
<rect x="492.87" y="162.40" width="2.30" height="2.40" fill="#a2061f"/>
<rect x="492.83" y="95.00" width="2.36" height="60.00" fill="#a2061f"/>
<rect x="492.83" y="61.60" width="2.36" height="30.25" fill="#a2061f"/>
<line x1="497.56" y1="155.80" x2="497.56" y2="159.20" stroke="#111" stroke-width="1.3"/>
<rect x="496.41" y="162.40" width="2.30" height="2.40" fill="#a2061f"/>
<rect x="496.38" y="95.00" width="2.36" height="60.00" fill="#a2061f"/>
<rect x="496.38" y="50.10" width="2.36" height="41.75" fill="#a2061f"/>
<line x1="501.10" y1="155.80" x2="501.10" y2="159.20" stroke="#111" stroke-width="1.3"/>
<rect x="499.95" y="162.40" width="2.30" height="2.40" fill="#a2061f"/>
<rect x="499.92" y="95.00" width="2.36" height="60.00" fill="#a2061f"/>
<rect x="499.92" y="47.90" width="2.36" height="43.95" fill="#a2061f"/>
<line x1="504.65" y1="155.80" x2="504.65" y2="159.20" stroke="#111" stroke-width="1.3"/>
<rect x="503.50" y="162.40" width="2.30" height="2.40" fill="#a2061f"/>
<rect x="503.47" y="95.00" width="2.36" height="60.00" fill="#a2061f"/>
<rect x="503.47" y="44.20" width="2.36" height="47.65" fill="#a2061f"/>
<line x1="508.19" y1="155.80" x2="508.19" y2="159.20" stroke="#111" stroke-width="1.3"/>
<rect x="507.04" y="162.40" width="2.30" height="2.40" fill="#a2061f"/>
<rect x="507.01" y="95.00" width="2.36" height="60.00" fill="#a2061f"/>
<rect x="507.01" y="42.20" width="2.36" height="49.65" fill="#a2061f"/>
<text x="7.50" y="19.50" font-size="14.4" text-anchor="start" font-weight="bold" fill="#000">A</text>
<text x="269.00" y="19.50" font-size="14.4" text-anchor="start" font-weight="bold" fill="#000">B</text>
<text x="7.30" y="209.90" font-size="14.4" text-anchor="start" font-weight="bold" fill="#000">C</text>
<text x="269.00" y="209.90" font-size="14.4" text-anchor="start" font-weight="bold" fill="#000">D</text>
<g transform="translate(30.7,142.6) rotate(-90)" font-size="10.8" fill="#222" stroke="#222" stroke-width="0.25">
<text x="0" y="0" textLength="72.4" lengthAdjust="spacingAndGlyphs">Anti–SARS-CoV-2 S</text>
<text x="75.5" y="0" textLength="25.8" lengthAdjust="spacingAndGlyphs">(U/mL)</text>
</g>
<g transform="translate(290.7,142.6) rotate(-90)" font-size="10.8" fill="#222" stroke="#222" stroke-width="0.25">
<text x="0" y="0" textLength="72.4" lengthAdjust="spacingAndGlyphs">Anti–SARS-CoV-2 S</text>
<text x="75.5" y="0" textLength="25.8" lengthAdjust="spacingAndGlyphs">(U/mL)</text>
</g>
<text x="135.40" y="178.00" font-size="10.8" text-anchor="start" font-weight="normal" fill="#333" stroke="#333" stroke-width="0.25" textLength="46.4" lengthAdjust="spacingAndGlyphs">CLL patients</text>
<text x="387.10" y="178.30" font-size="10.8" text-anchor="start" font-weight="normal" fill="#333" stroke="#333" stroke-width="0.25" textLength="63.6" lengthAdjust="spacingAndGlyphs">Healthy subjects</text>
<line x1="65.60" y1="228.60" x2="65.60" y2="333.50" stroke="#000" stroke-width="1.3"/>
<text x="58.40" y="335.40" font-size="10.0" text-anchor="end" font-weight="normal" fill="#222" stroke="#222" stroke-width="0.14" textLength="5.2" lengthAdjust="spacingAndGlyphs">0</text>
<line x1="62.10" y1="307.25" x2="65.60" y2="307.25" stroke="#000" stroke-width="1.1"/>
<text x="58.40" y="310.15" font-size="10.0" text-anchor="end" font-weight="normal" fill="#222" stroke="#222" stroke-width="0.14" textLength="10.4" lengthAdjust="spacingAndGlyphs">25</text>
<line x1="62.10" y1="282.00" x2="65.60" y2="282.00" stroke="#000" stroke-width="1.1"/>
<text x="58.40" y="284.90" font-size="10.0" text-anchor="end" font-weight="normal" fill="#222" stroke="#222" stroke-width="0.14" textLength="10.4" lengthAdjust="spacingAndGlyphs">50</text>
<line x1="62.10" y1="256.75" x2="65.60" y2="256.75" stroke="#000" stroke-width="1.1"/>
<text x="58.40" y="259.65" font-size="10.0" text-anchor="end" font-weight="normal" fill="#222" stroke="#222" stroke-width="0.14" textLength="10.4" lengthAdjust="spacingAndGlyphs">75</text>
<line x1="62.10" y1="231.50" x2="65.60" y2="231.50" stroke="#000" stroke-width="1.1"/>
<text x="58.40" y="234.40" font-size="10.0" text-anchor="end" font-weight="normal" fill="#222" stroke="#222" stroke-width="0.14" textLength="15.600000000000001" lengthAdjust="spacingAndGlyphs">100</text>
<line x1="62.10" y1="333.00" x2="218.50" y2="333.00" stroke="#000" stroke-width="1.5"/>
<rect x="87.90" y="231.30" width="42.80" height="100.70" fill="#2f4c7e"/>
<rect x="153.10" y="280.40" width="42.90" height="51.60" fill="#a40a2a"/>
<line x1="109.30" y1="333.00" x2="109.30" y2="336.00" stroke="#000" stroke-width="1"/>
<line x1="174.60" y1="333.00" x2="174.60" y2="336.00" stroke="#000" stroke-width="1"/>
<text x="94.50" y="348.00" font-size="9.6" text-anchor="start" font-weight="normal" fill="#222" stroke="#222" stroke-width="0.25" textLength="29.4" lengthAdjust="spacingAndGlyphs">control</text>
<text x="167.30" y="348.00" font-size="9.6" text-anchor="start" font-weight="normal" fill="#222" stroke="#222" stroke-width="0.25" textLength="15" lengthAdjust="spacingAndGlyphs">CLL</text>
<path d="M107.5,227.2 L107.5,225.2 L173.5,225.2 L173.5,227.2" fill="none" stroke="#222" stroke-width="1"/>
<text x="124.5" y="220.5" font-size="9.4" fill="#222" textLength="31" lengthAdjust="spacingAndGlyphs"><tspan font-style="italic">P</tspan> &lt; .001</text>
<g transform="translate(36.3,333.4) rotate(-90)" font-size="10.8" fill="#222" stroke="#222" stroke-width="0.25">
<text x="0" y="0" textLength="105.6" lengthAdjust="spacingAndGlyphs">Antibody response rate (%)</text>
</g>
<line x1="327.00" y1="230.60" x2="327.00" y2="333.50" stroke="#000" stroke-width="1.5"/>
<text x="319.80" y="335.50" font-size="10.0" text-anchor="end" font-weight="normal" fill="#222" stroke="#222" stroke-width="0.14" textLength="5.2" lengthAdjust="spacingAndGlyphs">0</text>
<line x1="323.50" y1="299.67" x2="327.00" y2="299.67" stroke="#000" stroke-width="1.1"/>
<text x="319.80" y="302.57" font-size="10.0" text-anchor="end" font-weight="normal" fill="#222" stroke="#222" stroke-width="0.14" textLength="20.8" lengthAdjust="spacingAndGlyphs">2000</text>
<line x1="323.50" y1="266.73" x2="327.00" y2="266.73" stroke="#000" stroke-width="1.1"/>
<text x="319.80" y="269.63" font-size="10.0" text-anchor="end" font-weight="normal" fill="#222" stroke="#222" stroke-width="0.14" textLength="20.8" lengthAdjust="spacingAndGlyphs">4000</text>
<line x1="323.50" y1="233.80" x2="327.00" y2="233.80" stroke="#000" stroke-width="1.1"/>
<text x="319.80" y="236.70" font-size="10.0" text-anchor="end" font-weight="normal" fill="#222" stroke="#222" stroke-width="0.14" textLength="20.8" lengthAdjust="spacingAndGlyphs">6000</text>
<line x1="323.50" y1="332.90" x2="475.60" y2="332.90" stroke="#000" stroke-width="1.6"/>
<rect x="348.90" y="302.70" width="41.20" height="19.00" fill="#8b98ba"/>
<line x1="348.90" y1="314.80" x2="390.10" y2="314.80" stroke="#2c4a87" stroke-width="2"/>
<line x1="369.50" y1="284.20" x2="369.50" y2="302.70" stroke="#2c4a87" stroke-width="1.2"/>
<line x1="363.60" y1="284.20" x2="375.20" y2="284.20" stroke="#2c4a87" stroke-width="1.2"/>
<line x1="369.50" y1="321.70" x2="369.50" y2="332.00" stroke="#2c4a87" stroke-width="1.2"/>
<line x1="363.30" y1="327.50" x2="375.40" y2="327.50" stroke="#2c4a87" stroke-width="1.2"/>
<circle cx="369.5" cy="250.5" r="1.25" fill="#1a3a7a"/>
<circle cx="369.5" cy="254.3" r="1.25" fill="#1a3a7a"/>
<circle cx="369.5" cy="259.7" r="1.25" fill="#1a3a7a"/>
<circle cx="369.5" cy="263.2" r="1.25" fill="#1a3a7a"/>
<circle cx="369.5" cy="281.4" r="1.25" fill="#1a3a7a"/>
<circle cx="366.4" cy="328.6" r="1.25" fill="#1a3a7a"/>
<circle cx="369.5" cy="330" r="1.25" fill="#1a3a7a"/>
<circle cx="372.6" cy="327.8" r="1.25" fill="#1a3a7a"/>
<circle cx="372.8" cy="330" r="1.25" fill="#1a3a7a"/>
<rect x="412.20" y="330.40" width="41.20" height="2.20" fill="#9e0d22"/>
<line x1="432.90" y1="320.20" x2="432.90" y2="330.40" stroke="#c04060" stroke-width="1.2"/>
<line x1="426.90" y1="320.20" x2="438.70" y2="320.20" stroke="#a3122f" stroke-width="1.2"/>
<circle cx="432.9" cy="267.7" r="1.25" fill="#a30a2b"/>
<circle cx="432.9" cy="273.5" r="1.25" fill="#a30a2b"/>
<circle cx="432.9" cy="313.7" r="1.25" fill="#a30a2b"/>
<circle cx="432.9" cy="317.5" r="1.25" fill="#a30a2b"/>
<line x1="369.30" y1="333.00" x2="369.30" y2="336.00" stroke="#000" stroke-width="1"/>
<line x1="432.90" y1="333.00" x2="432.90" y2="336.00" stroke="#000" stroke-width="1"/>
<text x="355.00" y="348.00" font-size="9.6" text-anchor="start" font-weight="normal" fill="#222" stroke="#222" stroke-width="0.25" textLength="29.0" lengthAdjust="spacingAndGlyphs">control</text>
<text x="425.00" y="348.00" font-size="9.6" text-anchor="start" font-weight="normal" fill="#222" stroke="#222" stroke-width="0.25" textLength="15.9" lengthAdjust="spacingAndGlyphs">CLL</text>
<path d="M370.5,234.8 L370.5,229.7 L432,229.7 L432,234.8" fill="none" stroke="#222" stroke-width="1"/>
<text x="385.1" y="227.5" font-size="9.4" fill="#222" textLength="31.6" lengthAdjust="spacingAndGlyphs"><tspan font-style="italic">P</tspan> &lt; .001</text>
<g transform="translate(292.1,332.4) rotate(-90)" font-size="10.8" fill="#222" stroke="#222" stroke-width="0.25">
<text x="0" y="0" textLength="72.2" lengthAdjust="spacingAndGlyphs">Anti–SARS-CoV-2 S</text>
<text x="74.2" y="0" textLength="26.6" lengthAdjust="spacingAndGlyphs">(U/mL)</text>
</g>
<rect x="0.00" y="1.00" width="520.00" height="1.00" fill="#c4c4c4"/>
<rect x="1.00" y="0.00" width="1.00" height="356.00" fill="#b0b0b0"/>
<rect x="518.00" y="0.00" width="1.00" height="356.00" fill="#808080"/>
<rect x="0.00" y="354.00" width="520.00" height="1.00" fill="#808080"/>
<rect x="0.00" y="0.00" width="520.00" height="1.00" fill="#000"/>
<rect x="0.00" y="0.00" width="1.00" height="356.00" fill="#000"/>
<rect x="519.00" y="0.00" width="1.00" height="356.00" fill="#000"/>
<rect x="0.00" y="355.00" width="520.00" height="1.00" fill="#000"/>
</svg>
</body></html>
